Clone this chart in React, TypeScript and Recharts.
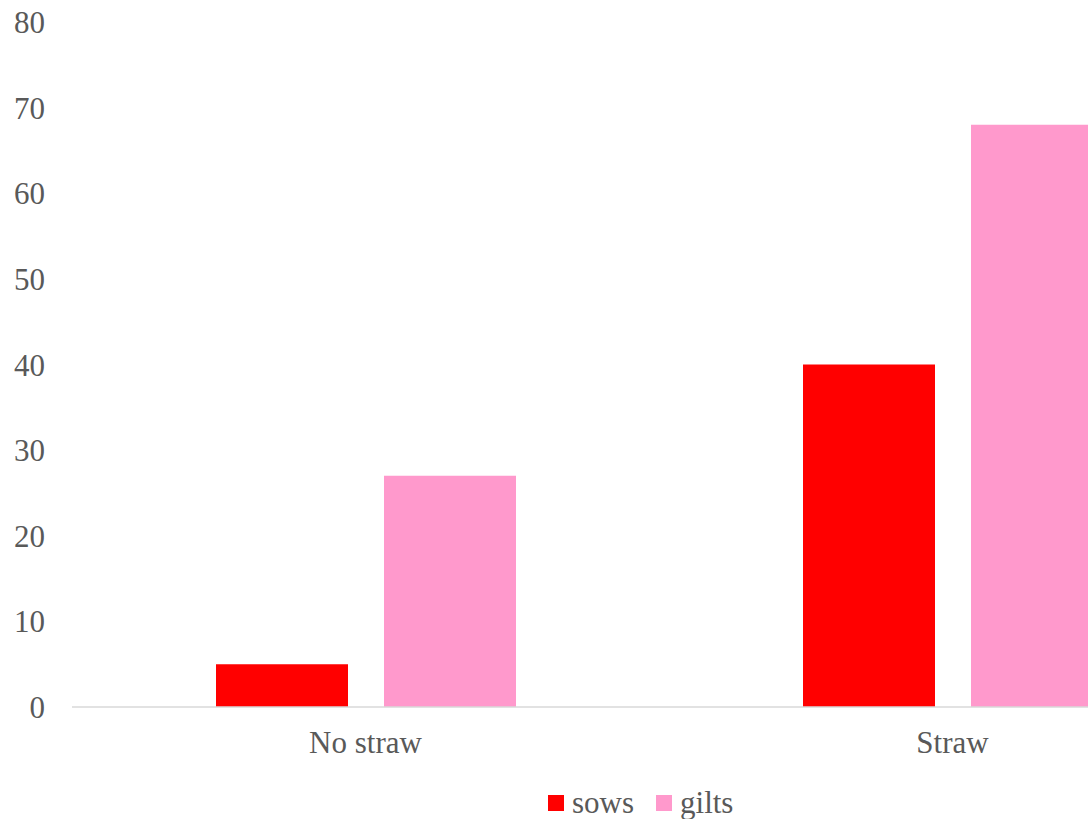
import React from "react";
import { BarChart, Bar, XAxis, YAxis, Legend } from "recharts";

const categories = ["No straw", "Straw"];
const sows = [5, 40];
const gilts = [27, 68];
const yTicks = [0, 10, 20, 30, 40, 50, 60, 70, 80];

const data = categories.map((name, i) => ({ name, sows: sows[i], gilts: gilts[i] }));

const FONT = "Liberation Serif";
const TEXT = "#595959";

const legendItems = [
  { label: "sows", color: "#FF0000" },
  { label: "gilts", color: "#FF99CC" },
];

const LegendContent = () => (
  <div style={{ display: "flex", alignItems: "center", fontFamily: FONT, fontSize: 31, lineHeight: "36px", color: TEXT }}>
    {legendItems.map((it) => (
      <div key={it.label} style={{ display: "flex", alignItems: "center", marginRight: 22 }}>
        <span style={{ display: "inline-block", width: 16, height: 16, background: it.color, marginRight: 8 }} />
        <span>{it.label}</span>
      </div>
    ))}
  </div>
);

export default function App() {
  // the original plot runs past the right edge, so the chart is wider than the page and clipped
  return (
    <div style={{ position: "fixed", top: 0, left: 0, width: 1088, height: 819, overflow: "hidden", background: "#fff" }}>
      <BarChart
        width={1246}
        height={819}
        data={data}
        margin={{ top: 22, right: 0, left: 0, bottom: 16 }}
        barSize={132}
        barGap={36}
      >
        <XAxis
          dataKey="name"
          axisLine={{ stroke: "#D9D9D9", strokeWidth: 1.5 }}
          tickLine={false}
          tickSize={0}
          tickMargin={24}
          tick={{ fill: TEXT, fontSize: 31, fontFamily: FONT }}
          height={60}
        />
        <YAxis
          domain={[0, 80]}
          ticks={yTicks}
          axisLine={false}
          tickLine={false}
          tickSize={0}
          tickMargin={27}
          width={72}
          interval={0}
          tick={{ fill: TEXT, fontSize: 31, fontFamily: FONT }}
        />
        <Legend
          content={<LegendContent />}
          wrapperStyle={{ position: "absolute", left: 548, top: 785, width: 300, height: 36 }}
        />
        <Bar dataKey="sows" fill="#FF0000" isAnimationActive={false} />
        <Bar dataKey="gilts" fill="#FF99CC" isAnimationActive={false} />
      </BarChart>
    </div>
  );
}
